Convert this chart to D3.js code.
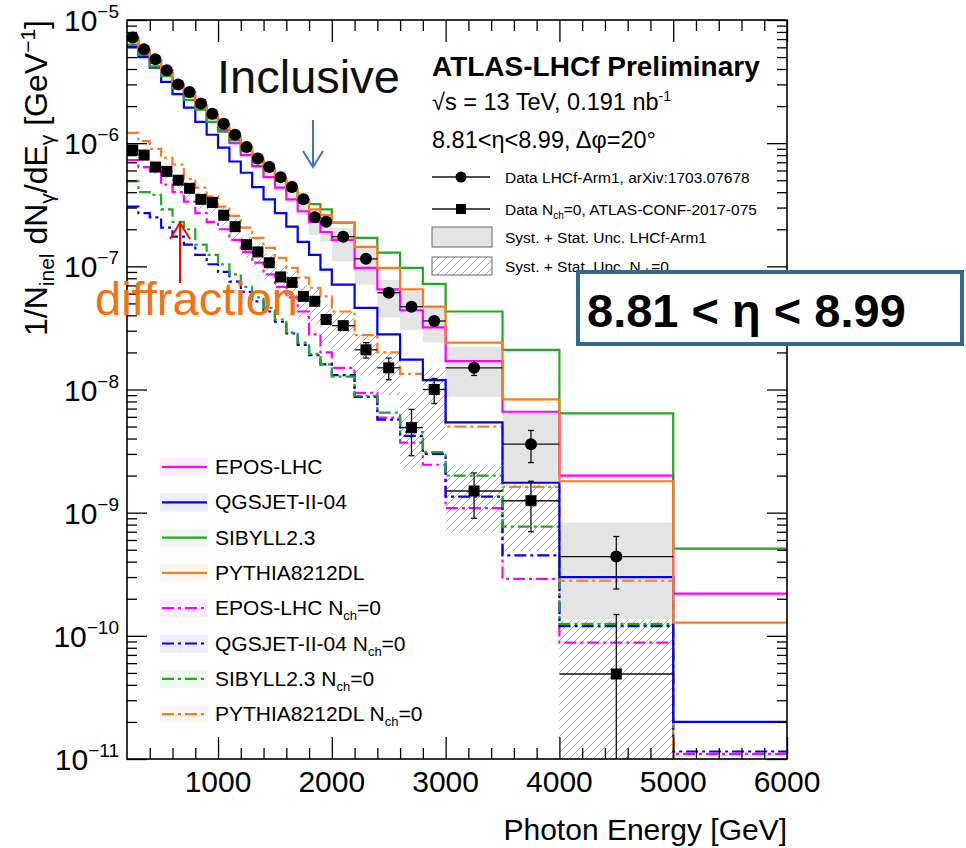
<!DOCTYPE html>
<html>
<head>
<meta charset="utf-8">
<script src="https://cdn.jsdelivr.net/npm/d3@7"></script>
<style>
  body { margin: 0; background: #fff; }
  svg { display: block; }
  text { font-family: "Liberation Sans", Arial, Helvetica, sans-serif; fill: #000; }
</style>
</head>
<body>
<svg id="chart" width="966" height="848"></svg>
<script>
// Photon energy bin edges [GeV]
const binEdges = [200,300,400,500,600,700,800,900,1000,1100,1200,1300,1400,1500,1600,1700,1800,1900,2000,2200,2400,2600,2800,3000,3500,4000,5000,6000];

// LHCf-Arm1 inclusive spectrum, 8.81 < eta < 8.99
const lhcfData = [7.2e-6,5.8e-6,4.8e-6,3.9e-6,3.0e-6,2.6e-6,2.1e-6,1.73e-6,1.44e-6,1.17e-6,9.3e-7,7.5e-7,6.4e-7,5.3e-7,4.4e-7,3.5e-7,2.5e-7,2.3e-7,1.74e-7,1.15e-7,6.1e-8,4.7e-8,3.6e-8,1.5e-8,3.6e-9,4.4e-10];
const lhcfStat = [7e-8,6e-8,5e-8,4e-8,3e-8,3e-8,2e-8,2e-8,2e-8,1.5e-8,1.2e-8,1e-8,9e-9,8e-9,7e-9,6e-9,5e-9,5e-9,5e-9,4e-9,3e-9,3e-9,3e-9,2e-9,1.05e-9,2.0e-10];
const lhcfSysUp = [0.07,0.07,0.07,0.08,0.08,0.08,0.09,0.09,0.10,0.10,0.11,0.12,0.12,0.13,0.14,0.15,0.16,0.17,0.18,0.25,0.27,0.32,0.30,0.48,0.78,0.89];
const lhcfSysDown = [0.08,0.08,0.08,0.09,0.09,0.10,0.10,0.11,0.12,0.13,0.14,0.16,0.18,0.20,0.22,0.25,0.28,0.31,0.37,0.38,0.37,0.35,0.33,0.42,0.51,0.69];

// ATLAS-tagged N_ch = 0 spectrum
const nch0Data = [8.8e-7,8.0e-7,6.4e-7,5.9e-7,5.0e-7,4.3e-7,3.5e-7,3.3e-7,2.6e-7,2.1e-7,1.5e-7,1.31e-7,1.07e-7,8.2e-8,7.4e-8,5.7e-8,5.2e-8,3.7e-8,3.3e-8,2.1e-8,1.5e-8,4.9e-9,1.0e-8,1.5e-9,1.25e-9,4.9e-11];
const nch0Stat = [1.5e-8,1.4e-8,1.2e-8,1.1e-8,1e-8,9e-9,8e-9,8e-9,7e-9,6e-9,5e-9,5e-9,4.5e-9,4e-9,4e-9,3.5e-9,3.5e-9,3e-9,2.5e-9,3e-9,3e-9,2e-9,2.3e-9,6e-10,5.5e-10,1.0e-10];
const nch0SysUp = [0.10,0.10,0.10,0.11,0.11,0.12,0.12,0.13,0.14,0.15,0.16,0.17,0.18,0.20,0.22,0.24,0.26,0.28,0.30,0.32,0.35,0.85,0.45,0.57,0.35,1.74];
const nch0SysDown = [0.12,0.12,0.13,0.13,0.14,0.15,0.16,0.17,0.18,0.20,0.22,0.24,0.26,0.28,0.30,0.32,0.34,0.35,0.36,0.37,0.40,0.53,0.61,0.54,0.61,0.95];

// Model predictions, inclusive
const eposLHC = [6.9e-6,5.6e-6,4.6e-6,3.7e-6,2.9e-6,2.4e-6,2.0e-6,1.6e-6,1.28e-6,1.0e-6,8.0e-7,6.5e-7,5.3e-7,4.35e-7,3.5e-7,2.8e-7,2.3e-7,1.9e-7,1.64e-7,9.7e-8,6.5e-8,4.4e-8,3.2e-8,1.7e-8,6.6e-9,2.0e-9,2.2e-10];
const qgsjet = [6.1e-6,5.0e-6,4.1e-6,3.15e-6,2.5e-6,1.94e-6,1.49e-6,1.17e-6,9.2e-7,7.1e-7,5.75e-7,4.4e-7,3.5e-7,2.7e-7,2.1e-7,1.58e-7,1.24e-7,9.4e-8,7.1e-8,4.6e-8,2.8e-8,1.75e-8,1.19e-8,5.4e-9,1.75e-9,3.0e-10,2.0e-11];
const sibyll = [6.3e-6,5.2e-6,4.2e-6,3.5e-6,2.8e-6,2.25e-6,1.87e-6,1.49e-6,1.24e-6,1.06e-6,8.7e-7,7.2e-7,6.0e-7,4.95e-7,4.1e-7,3.4e-7,3.2e-7,2.9e-7,2.26e-7,1.7e-7,1.29e-7,9.7e-8,7.2e-8,4.3e-8,2.1e-8,6.4e-9,5.1e-10];
const pythia = [7.2e-6,5.7e-6,4.7e-6,3.9e-6,3.0e-6,2.6e-6,2.05e-6,1.7e-6,1.4e-6,1.14e-6,9.2e-7,7.5e-7,6.2e-7,5.1e-7,4.3e-7,3.5e-7,2.9e-7,2.6e-7,2.26e-7,1.44e-7,9.7e-8,6.5e-8,4.7e-8,2.4e-8,8.3e-9,1.8e-9,1.28e-10];

// Model predictions, N_ch = 0
const eposNch0 = [7.3e-7,6.4e-7,5.9e-7,4.6e-7,4.0e-7,3.35e-7,2.7e-7,2.3e-7,2.0e-7,1.64e-7,1.31e-7,1.07e-7,8.6e-8,6.8e-8,5.6e-8,4.3e-8,2.8e-8,2.0e-8,1.5e-8,9.4e-9,5.9e-9,3.7e-9,2.45e-9,1.09e-9,2.9e-10,8.8e-11,1.1e-11];
const qgsjetNch0 = [3.05e-7,2.7e-7,2.5e-7,2.06e-7,1.74e-7,1.5e-7,1.24e-7,1.04e-7,9.0e-8,7.5e-8,6.2e-8,5.2e-8,4.3e-8,3.55e-8,2.85e-8,2.3e-8,1.9e-8,1.6e-8,1.31e-8,8.7e-9,5.7e-9,4.2e-9,3.0e-9,1.35e-9,4.5e-10,1.2e-10,1.15e-11];
const sibyllNch0 = [4.9e-7,4.0e-7,3.8e-7,2.9e-7,2.3e-7,2.0e-7,1.5e-7,1.24e-7,1.04e-7,8.6e-8,6.8e-8,5.6e-8,4.6e-8,3.7e-8,2.9e-8,2.4e-8,1.95e-8,1.6e-8,1.27e-8,8.9e-9,6.5e-9,4.5e-9,3.1e-9,2.0e-9,7.7e-10,1.25e-10,8e-12];
const pythiaNch0 = [1.21e-6,1.04e-6,9.0e-7,7.6e-7,6.7e-7,5.1e-7,4.35e-7,3.7e-7,3.05e-7,2.57e-7,2.06e-7,1.7e-7,1.41e-7,1.17e-7,9.7e-8,8.1e-8,6.7e-8,5.7e-8,4.3e-8,2.76e-8,2.0e-8,1.34e-8,1.19e-8,5.0e-9,1.62e-9,2.8e-10,7.5e-12];

// Axis ticks
const xTickLabels = [1000,2000,3000,4000,5000,6000];
const yDecades = [-11,-10,-9,-8,-7,-6,-5];

const models = [
  {name:"EPOS-LHC", values:eposLHC, color:"#ff00ff", dash:null},
  {name:"QGSJET-II-04", values:qgsjet, color:"#0000ff", dash:null},
  {name:"SIBYLL2.3", values:sibyll, color:"#22a822", dash:null},
  {name:"PYTHIA8212DL", values:pythia, color:"#ff7a1a", dash:null},
  {name:"EPOS-LHC", values:eposNch0, color:"#ff00ff", dash:"12,4,3,4", nch:true},
  {name:"QGSJET-II-04", values:qgsjetNch0, color:"#0000ff", dash:"12,4,3,4", nch:true},
  {name:"SIBYLL2.3", values:sibyllNch0, color:"#22a822", dash:"12,4,3,4", nch:true},
  {name:"PYTHIA8212DL", values:pythiaNch0, color:"#ff7a1a", dash:"12,4,3,4", nch:true}
];

const frame = {left:127, right:787, top:20, bottom:759};
const svg = d3.select("#chart");
svg.append("rect").attr("width",966).attr("height",848).attr("fill","#fff");

const x = d3.scaleLinear().domain([200,6000]).range([frame.left, frame.right]);
const y = d3.scaleLog().domain([1e-11,1e-5]).range([frame.bottom, frame.top]);
const yc = v => y(Math.max(v, 1e-13));

const defs = svg.append("defs");
defs.append("clipPath").attr("id","plotClip").append("rect")
  .attr("x",frame.left).attr("y",frame.top)
  .attr("width",frame.right-frame.left).attr("height",frame.bottom-frame.top);
const hatch = defs.append("pattern").attr("id","hatch")
  .attr("patternUnits","userSpaceOnUse").attr("width",8).attr("height",8);
hatch.append("path").attr("d","M-2,2 l4,-4 M0,8 l8,-8 M6,10 l4,-4")
  .attr("stroke","#8f8f8f").attr("stroke-width",0.8);

const plot = svg.append("g").attr("clip-path","url(#plotClip)");

// Uncertainty bands
plot.append("g").selectAll("rect").data(lhcfData).join("rect")
  .attr("x",(d,i)=>x(binEdges[i])).attr("width",(d,i)=>x(binEdges[i+1])-x(binEdges[i]))
  .attr("y",(d,i)=>yc(d*(1+lhcfSysUp[i])))
  .attr("height",(d,i)=>yc(d*(1-lhcfSysDown[i]))-yc(d*(1+lhcfSysUp[i])))
  .attr("fill","#e4e4e4");
plot.append("g").selectAll("rect").data(nch0Data).join("rect")
  .attr("x",(d,i)=>x(binEdges[i])).attr("width",(d,i)=>x(binEdges[i+1])-x(binEdges[i]))
  .attr("y",(d,i)=>yc(d*(1+nch0SysUp[i])))
  .attr("height",(d,i)=>yc(d*(1-nch0SysDown[i]))-yc(d*(1+nch0SysUp[i])))
  .attr("fill","url(#hatch)");

// Model histograms as step lines
const stepLine = d3.line().x(d=>x(d[0])).y(d=>yc(d[1]));
function stepPoints(vals){
  const pts = [];
  vals.forEach((v,i)=>{ pts.push([binEdges[i],v]); pts.push([binEdges[i+1],v]); });
  return pts;
}
// dash-dot sets drawn first, solid on top
[...models.filter(m=>m.nch), ...models.filter(m=>!m.nch)].forEach(m=>{
  plot.append("path").attr("d",stepLine(stepPoints(m.values)))
    .attr("fill","none").attr("stroke",m.color).attr("stroke-width",2.2)
    .attr("stroke-dasharray",m.dash);
});

// Data points with error bars
function drawData(vals, errs, shape){
  const g = plot.append("g");
  vals.forEach((v,i)=>{
    const cx = x((binEdges[i]+binEdges[i+1])/2);
    const cy = y(v);
    g.append("line").attr("x1",x(binEdges[i])).attr("x2",x(binEdges[i+1]))
      .attr("y1",cy).attr("y2",cy).attr("stroke","#111").attr("stroke-width",1.3);
    const yTop = yc(v+errs[i]), yBot = yc(v-errs[i]);
    g.append("line").attr("x1",cx).attr("x2",cx).attr("y1",yTop).attr("y2",yBot)
      .attr("stroke","#111").attr("stroke-width",1.3);
    if (cy-yTop > 7) g.append("line").attr("x1",cx-3).attr("x2",cx+3).attr("y1",yTop).attr("y2",yTop).attr("stroke","#111").attr("stroke-width",1.3);
    if (yBot-cy > 7 && yBot < frame.bottom) g.append("line").attr("x1",cx-3).attr("x2",cx+3).attr("y1",yBot).attr("y2",yBot).attr("stroke","#111").attr("stroke-width",1.3);
    if (shape==="circle") g.append("circle").attr("cx",cx).attr("cy",cy).attr("r",6).attr("fill","#000");
    else g.append("rect").attr("x",cx-5.5).attr("y",cy-5.5).attr("width",11).attr("height",11).attr("fill","#000");
  });
}
drawData(nch0Data, nch0Stat, "square");
drawData(lhcfData, lhcfStat, "circle");

// Frame and ticks
const xMajor = xTickLabels;
const xMinor = d3.range(400,6001,200).filter(v=>v%1000!==0);
const yMajor = yDecades.map(e=>Math.pow(10,e));
const yMinor = [];
for (let e=-11;e<-5;e++) for (let m=2;m<=9;m++) yMinor.push(m*Math.pow(10,e));

function tickSet(axis, transform, values, size){
  svg.append("g").attr("transform",transform)
    .call(axis.tickValues(values).tickSize(size).tickFormat(""))
    .call(g=>g.select(".domain").remove())
    .selectAll("line").attr("stroke","#000").attr("stroke-width",1.3);
}
tickSet(d3.axisBottom(x), `translate(0,${frame.bottom})`, xMinor, -11);
tickSet(d3.axisBottom(x), `translate(0,${frame.bottom})`, xMajor, -22);
tickSet(d3.axisTop(x), `translate(0,${frame.top})`, xMinor, -11);
tickSet(d3.axisTop(x), `translate(0,${frame.top})`, xMajor, -22);
tickSet(d3.axisLeft(y), `translate(${frame.left},0)`, yMinor, -10);
tickSet(d3.axisLeft(y), `translate(${frame.left},0)`, yMajor, -20);
tickSet(d3.axisRight(y), `translate(${frame.right},0)`, yMinor, -10);
tickSet(d3.axisRight(y), `translate(${frame.right},0)`, yMajor, -20);

svg.append("rect").attr("x",frame.left).attr("y",frame.top)
  .attr("width",frame.right-frame.left).attr("height",frame.bottom-frame.top)
  .attr("fill","none").attr("stroke","#000").attr("stroke-width",1.6);

// Tick labels
svg.append("g").selectAll("text").data(xTickLabels).join("text")
  .attr("x",d=>x(d)).attr("y",792).attr("text-anchor","middle")
  .style("font-size","30px").text(d=>d);
yDecades.forEach(e=>{
  const t = svg.append("text").attr("x",119).attr("y",y(Math.pow(10,e))+11)
    .attr("text-anchor","end").style("font-size","30px");
  t.append("tspan").text("10");
  t.append("tspan").attr("dy",-13).style("font-size","19px").text("\u2212"+(-e));
});

// Axis titles
svg.append("text").attr("x",787).attr("y",840).attr("text-anchor","end")
  .style("font-size","30px").text("Photon Energy [GeV]");
const yt = svg.append("text").attr("transform","translate(47,20) rotate(-90)")
  .attr("text-anchor","end").style("font-size","32px");
yt.append("tspan").text("1/N");
yt.append("tspan").attr("dy",7).style("font-size","21px").text("inel");
yt.append("tspan").attr("dy",-7).text(" dN");
yt.append("tspan").attr("dy",7).style("font-size","21px").text("\u03b3");
yt.append("tspan").attr("dy",-7).text("/dE");
yt.append("tspan").attr("dy",7).style("font-size","21px").text("\u03b3");
yt.append("tspan").attr("dy",-7).text(" [GeV");
yt.append("tspan").attr("dy",-12).style("font-size","21px").text("\u22121");
yt.append("tspan").attr("dy",12).text("]");

// Top-right labels and legend
svg.append("text").attr("x",432).attr("y",76).style("font-size","28px").style("font-weight","bold")
  .text("ATLAS-LHCf Preliminary");
const sq = svg.append("text").attr("x",432).attr("y",110).style("font-size","23.5px");
sq.append("tspan").text("\u221as = 13 TeV, 0.191 nb");
sq.append("tspan").attr("dy",-9).style("font-size","14px").text("-1");
svg.append("text").attr("x",432).attr("y",148).style("font-size","23.5px")
  .text("8.81<\u03b7<8.99, \u0394\u03c6=20\u00b0");

const lg = svg.append("g");
lg.append("line").attr("x1",432).attr("x2",490).attr("y1",177).attr("y2",177).attr("stroke","#111").attr("stroke-width",1.3);
lg.append("circle").attr("cx",461).attr("cy",177).attr("r",5.5).attr("fill","#000");
lg.append("text").attr("x",505).attr("y",183).style("font-size","15.5px").text("Data LHCf-Arm1, arXiv:1703.07678");
lg.append("line").attr("x1",432).attr("x2",490).attr("y1",209).attr("y2",209).attr("stroke","#111").attr("stroke-width",1.3);
lg.append("rect").attr("x",456).attr("y",204).attr("width",10).attr("height",10).attr("fill","#000");
const t2 = lg.append("text").attr("x",505).attr("y",215).style("font-size","15.5px");
t2.append("tspan").text("Data N");
t2.append("tspan").attr("dy",4).style("font-size","10px").text("ch");
t2.append("tspan").attr("dy",-4).text("=0, ATLAS-CONF-2017-075");
lg.append("rect").attr("x",432).attr("y",227).attr("width",60).attr("height",20)
  .attr("fill","#e4e4e4").attr("stroke","#666").attr("stroke-width",1);
lg.append("text").attr("x",505).attr("y",243).style("font-size","15.5px").text("Syst. + Stat. Unc. LHCf-Arm1");
lg.append("rect").attr("x",432).attr("y",257).attr("width",60).attr("height",18)
  .attr("fill","url(#hatch)").attr("stroke","#666").attr("stroke-width",1);
const t4 = lg.append("text").attr("x",505).attr("y",272).style("font-size","15.5px");
t4.append("tspan").text("Syst. + Stat. Unc. N");
t4.append("tspan").attr("dy",4).style("font-size","10px").text("ch");
t4.append("tspan").attr("dy",-4).text("=0");

// Model legend, lower left
const ml = svg.append("g");
models.forEach((m,i)=>{
  const ry = 467 + i*35.3;
  ml.append("rect").attr("x",160).attr("y",ry-9).attr("width",48).attr("height",18)
    .attr("fill",m.color).attr("opacity",0.07);
  ml.append("line").attr("x1",162).attr("x2",207).attr("y1",ry).attr("y2",ry)
    .attr("stroke",m.color).attr("stroke-width",2.2).attr("stroke-dasharray",m.dash);
  const t = ml.append("text").attr("x",215).attr("y",ry+7).style("font-size","21px");
  t.append("tspan").text(m.name + (m.nch ? " N" : ""));
  if (m.nch){
    t.append("tspan").attr("dy",5).style("font-size","13px").text("ch");
    t.append("tspan").attr("dy",-5).text("=0");
  }
});

// Annotations
svg.append("text").attr("x",217).attr("y",93).style("font-size","47px").style("fill","#111").text("Inclusive");
const ba = svg.append("g").attr("stroke","#4472c4").attr("stroke-width",2).attr("fill","none");
ba.append("line").attr("x1",313).attr("x2",313).attr("y1",120).attr("y2",167);
ba.append("polyline").attr("points","303,151 313,167 323,151");

svg.append("text").attr("x",95).attr("y",315).style("font-size","47px").style("fill","#f7700f").text("diffraction");
const ra = svg.append("g").attr("stroke","#ff0000").attr("stroke-width",2).attr("fill","none");
ra.append("line").attr("x1",180).attr("x2",180).attr("y1",283).attr("y2",223);
ra.append("polyline").attr("points","170,239 180,223 190,239");

svg.append("rect").attr("x",578).attr("y",272).attr("width",384).attr("height",72)
  .attr("fill","#fff").attr("stroke","#316a8c").attr("stroke-width",4);
svg.append("text").attr("x",587).attr("y",327).style("font-size","47px").style("font-weight","bold")
  .text("8.81 < \u03b7 < 8.99");
</script>
</body>
</html>
